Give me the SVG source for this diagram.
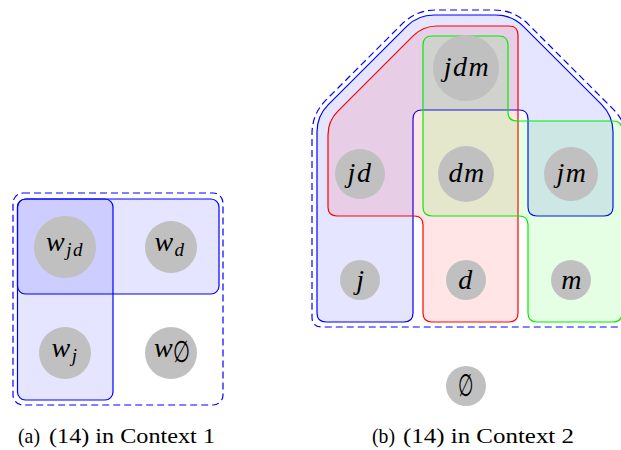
<svg xmlns="http://www.w3.org/2000/svg" width="621" height="450" viewBox="0 0 621 450">
  <style>
    .bg { fill: #ffffff; }
    .dash { fill: none; stroke: #0000ff; stroke-width: 1.2; stroke-dasharray: 7 4; }
    .blue { fill: #0000ff; fill-opacity: 0.1; stroke: #0000ff; stroke-width: 1.2; }
    .red { fill: #ff0000; fill-opacity: 0.1; stroke: #ff0000; stroke-width: 1.2; }
    .green { fill: #00ff00; fill-opacity: 0.1; stroke: #00ee00; stroke-width: 1.2; }
    .dot { fill: #c0c0c0; }
    .m { font-family: "Liberation Serif", "DejaVu Serif", serif; font-style: italic; font-size: 28px; text-anchor: middle; fill: #000; letter-spacing: 1.5px; }
    .sub { font-size: 19px; }
    .es { font-family: "DejaVu Serif", serif; font-style: normal; font-size: 30px; text-anchor: middle; fill: #000; }
    .cap { font-family: "Liberation Serif", serif; font-size: 22px; fill: #000; }
  </style>
  <rect class="bg" x="0" y="0" width="621" height="450"/>

  <!-- (a) Context 1 -->
  <g id="ctx1">
    <g id="ctx1-regions">
      <rect class="dash" x="13" y="193" width="210" height="212" rx="10"/>
      <rect id="set-d" class="blue" x="17.5" y="199" width="201.5" height="95" rx="8"/>
      <rect id="set-j" class="blue" x="17.5" y="199" width="95.5" height="201" rx="8"/>
    </g>
    <g id="w-jd">
      <circle class="dot" cx="65" cy="247" r="31"/>
      <text class="m" x="65" y="251">w<tspan class="sub" dy="5">jd</tspan></text>
    </g>
    <g id="w-d">
      <circle class="dot" cx="171" cy="247" r="26"/>
      <text class="m" x="170" y="251">w<tspan class="sub" dy="5">d</tspan></text>
    </g>
    <g id="w-j">
      <circle class="dot" cx="65" cy="353" r="26"/>
      <text class="m" x="65" y="357">w<tspan class="sub" dy="5">j</tspan></text>
    </g>
    <g id="w-empty">
      <circle class="dot" cx="171" cy="353" r="26"/>
      <text class="m" x="164" y="357">w</text>
      <text class="es" transform="translate(181,362) scale(0.65,1)" x="0" y="0" font-size="20">∅</text>
    </g>
  </g>

  <!-- (b) Context 2 -->
  <g id="ctx2">
    <g id="ctx2-regions">
      <path class="dash" d="M312,300 L312,134 Q312,114 326.1,99.9 L401.9,24.1 Q416,10 436,10 L494,10 Q514,10 528.1,24.1 L612.9,108.9 Q627,123 627,143 L627,317 Q627,327 617,327 L322,327 Q312,327 312,317 Z"/>
      <path id="set-j2" class="blue" d="M317,300 L317,132 Q317,116 328.3,104.7 L406.7,26.3 Q418,15 434,15 L496,15 Q512,15 523.3,26.3 L601.7,104.7 Q613,116 613,132 L613,207 Q613,216 604,216 L537,216 Q528,216 528,207 L528,119 Q528,110 519,110 L422,110 Q413,110 413,119 L413,313 Q413,322 404,322 L326,322 Q317,322 317,313 Z"/>
      <path id="set-d2" class="red" d="M328,200 L328,135 Q328,121 337.9,111.1 L413.1,35.9 Q423,26 437,26 L509,26 Q518,26 518,35 L518,313 Q518,322 509,322 L432,322 Q423,322 423,313 L423,225 Q423,216 414,216 L337,216 Q328,216 328,207 Z"/>
      <path id="set-m2" class="green" d="M423,100 L423,45 Q423,36 432,36 L499,36 Q508,36 508,45 L508,112 Q508,121 517,121 L613,121 Q622,121 622,130 L622,313 Q622,322 613,322 L537,322 Q528,322 528,313 L528,225 Q528,216 519,216 L432,216 Q423,216 423,207 Z"/>
    </g>
    <g id="n-jdm">
      <circle class="dot" cx="466" cy="68" r="33"/>
      <text class="m" x="467" y="76">jdm</text>
    </g>
    <g id="n-jd">
      <circle class="dot" cx="360" cy="174" r="25"/>
      <text class="m" x="360" y="182">jd</text>
    </g>
    <g id="n-dm">
      <circle class="dot" cx="466" cy="174" r="28"/>
      <text class="m" x="467" y="182">dm</text>
    </g>
    <g id="n-jm">
      <circle class="dot" cx="571" cy="174" r="27"/>
      <text class="m" x="572" y="182">jm</text>
    </g>
    <g id="n-j">
      <circle class="dot" cx="360" cy="280" r="20"/>
      <text class="m" x="361" y="289">j</text>
    </g>
    <g id="n-d">
      <circle class="dot" cx="466" cy="280" r="20"/>
      <text class="m" x="466" y="289">d</text>
    </g>
    <g id="n-m">
      <circle class="dot" cx="571" cy="280" r="20"/>
      <text class="m" x="572" y="289">m</text>
    </g>
    <g id="n-empty">
      <circle class="dot" cx="466" cy="386" r="20"/>
      <text class="es" transform="translate(466,396) scale(0.6,1.05)" x="0" y="0">∅</text>
    </g>
  </g>

  <!-- captions -->
  <g id="captions">
    <text class="cap" x="18" y="443" textLength="22" lengthAdjust="spacingAndGlyphs">(a)</text>
    <text class="cap" x="49" y="443" textLength="166" lengthAdjust="spacingAndGlyphs">(14) in Context 1</text>
    <text class="cap" x="372" y="443" textLength="23" lengthAdjust="spacingAndGlyphs">(b)</text>
    <text class="cap" x="403" y="443" textLength="171" lengthAdjust="spacingAndGlyphs">(14) in Context 2</text>
  </g>
</svg>
